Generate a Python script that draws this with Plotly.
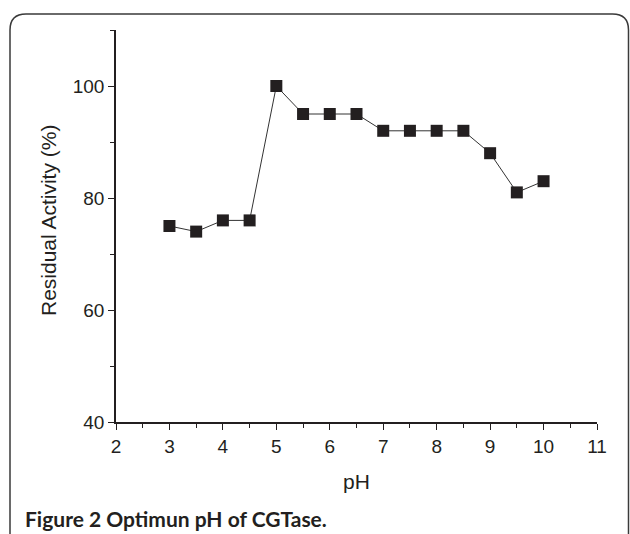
import plotly.graph_objects as go

ph = [3, 3.5, 4, 4.5, 5, 5.5, 6, 6.5, 7, 7.5, 8, 8.5, 9, 9.5, 10]
activity = [75, 74, 76, 76, 100, 95, 95, 95, 92, 92, 92, 92, 88, 81, 83]

W, H = 630, 534
ML, MR, MT, MB = 116, 33, 30, 112
PW, PH = W - ML - MR, H - MT - MB
INK = "#231f20"
FONT = "Liberation Sans, Arial, sans-serif"


def px(x):
    return (x - ML) / PW


def py(y):
    return (H - MB - y) / PH


fig = go.Figure()
fig.add_trace(go.Scatter(
    x=ph, y=activity, mode="lines+markers",
    line=dict(color="#333333", width=1),
    marker=dict(symbol="square", size=12, color=INK, line=dict(width=0)),
    showlegend=False,
))

axis_common = dict(
    showline=True, linecolor=INK, linewidth=1.5,
    ticks="outside", ticklen=6, tickwidth=1.3, tickcolor=INK,
    showgrid=False, zeroline=False,
    tickfont=dict(family=FONT, size=19, color=INK),
)

fig.update_xaxes(range=[2, 11], dtick=1, tick0=2,
                 minor=dict(dtick=0.5, ticks="outside", ticklen=4, tickwidth=1.3, tickcolor=INK),
                 **axis_common)
fig.update_yaxes(range=[40, 110], tickvals=[40, 60, 80, 100],
                 minor=dict(dtick=10, tick0=40, ticks="outside", ticklen=4, tickwidth=1.3, tickcolor=INK),
                 **axis_common)

# rounded border
L, T, R, B, r = 10, 14, 628.5, 545, 16
path = (f"M {px(L)},{py(B)} L {px(L)},{py(T + r)} "
        f"Q {px(L)},{py(T)} {px(L + r)},{py(T)} "
        f"L {px(R - r)},{py(T)} Q {px(R)},{py(T)} {px(R)},{py(T + r)} "
        f"L {px(R)},{py(B)}")
fig.add_shape(type="path", path=path, xref="paper", yref="paper",
              line=dict(color="#3a3a3a", width=1.5), layer="below")

fig.add_annotation(text="pH", xref="paper", yref="paper",
                   x=px(356), y=py(481), xanchor="center", yanchor="middle",
                   showarrow=False, font=dict(family=FONT, size=21, color=INK))
fig.add_annotation(text="Residual Activity (%)", xref="paper", yref="paper",
                   x=px(48), y=py(221), xanchor="center", yanchor="middle",
                   textangle=-90, showarrow=False,
                   font=dict(family=FONT, size=21, color=INK))
fig.add_annotation(text="<b>Figure 2 Optimun pH of CGTase.</b>", xref="paper", yref="paper",
                   x=px(23), y=py(518), xanchor="left", yanchor="middle",
                   showarrow=False, font=dict(family="Lato, Open Sans, sans-serif", size=21, color=INK))

fig.update_layout(
    width=W, height=H,
    margin=dict(l=ML, r=MR, t=MT, b=MB),
    paper_bgcolor="white", plot_bgcolor="white",
)

fig.write_html("out.html")
